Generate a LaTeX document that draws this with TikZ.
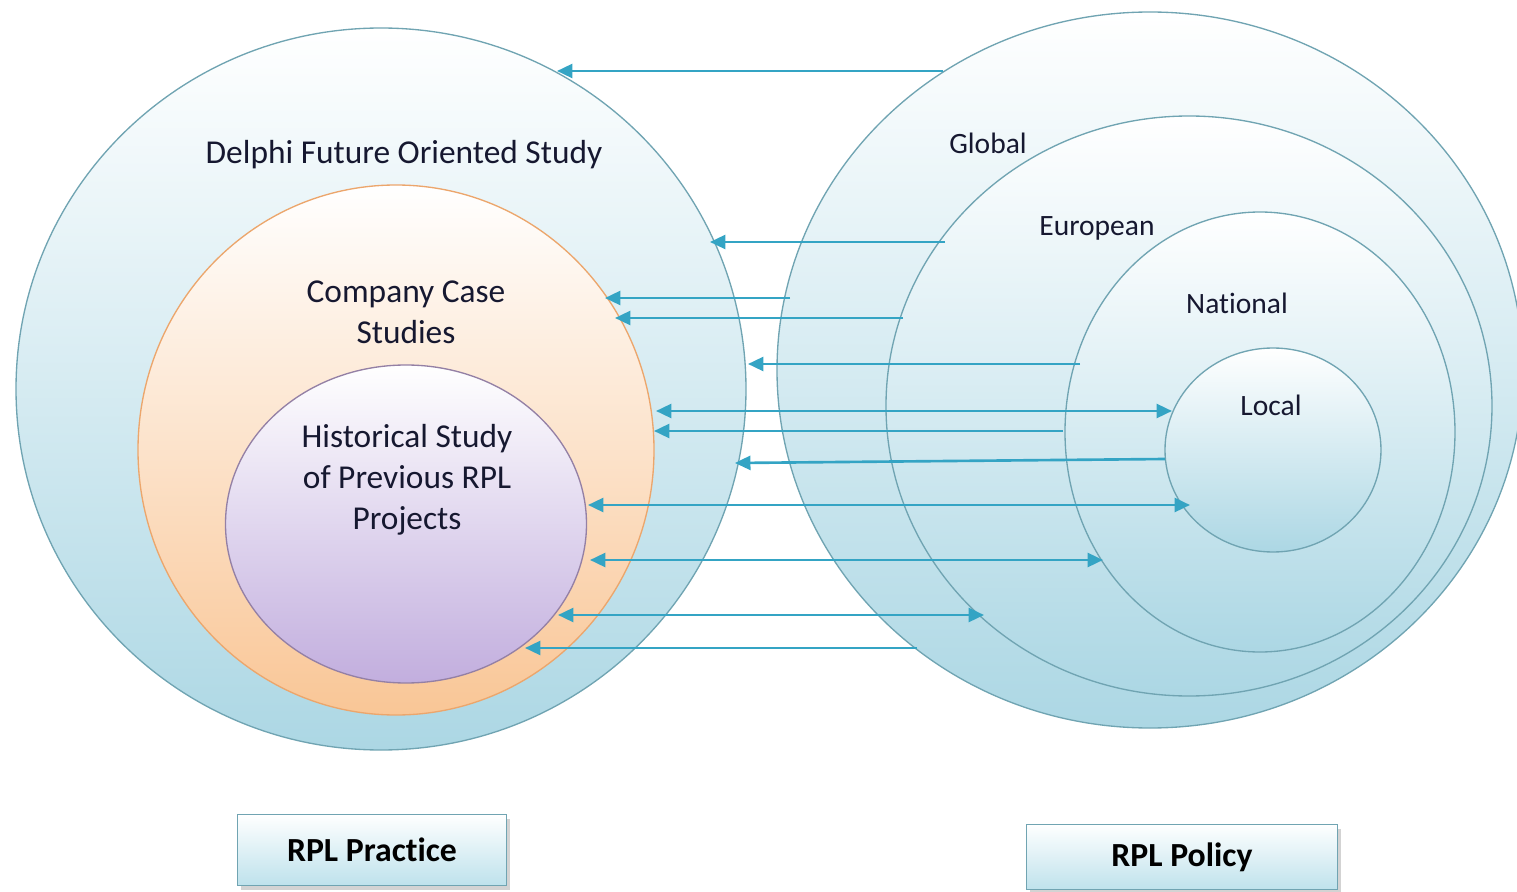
\documentclass[tikz,border=0pt]{standalone}
\usepackage{fontspec}
\setmainfont{Carlito}[Ligatures=NoCommon]
\usetikzlibrary{positioning, arrows.meta, shapes, shadows}
\definecolor{ringblue}{RGB}{172,215,228}
\definecolor{ringline}{RGB}{112,164,178}
\definecolor{caseorange}{RGB}{249,198,150}
\definecolor{caseline}{RGB}{236,166,108}
\definecolor{histlilac}{RGB}{194,174,222}
\definecolor{histline}{RGB}{148,128,165}
\definecolor{arrowteal}{RGB}{52,164,196}
\definecolor{tagblue}{RGB}{190,226,236}
\definecolor{inkblue}{RGB}{22,24,48}

\begin{document}
\begin{tikzpicture}[
		>={Triangle[length=4.4pt, width=4pt]},
		ring/.style={ellipse, draw=ringline, line width=0.38pt, inner sep=0pt, top color=white, bottom color=ringblue},
		lbl/.style={font=\fontsize{9.5}{11.7}\selectfont, align=center, text=inkblue},
		lvl/.style={font=\fontsize{8.4}{10}\selectfont, text=inkblue},
		link/.style={draw=arrowteal, line width=0.75pt},
		tag/.style={draw=ringline, rectangle, line width=0.5pt, top color=white, bottom color=tagblue, font=\fontsize{9.6}{11}\selectfont\bfseries, drop shadow={shadow xshift=1pt, shadow yshift=-1.2pt, opacity=0.35}},
	]
	\useasboundingbox (0,0) rectangle (15.17,-8.92);

	\node[ring, minimum width=7.30cm, minimum height=7.22cm] (delphi) at (3.81,-3.89) {};
	\node[ring, draw=caseline, bottom color=caseorange, minimum width=5.16cm, minimum height=5.30cm] (cases) at (3.96,-4.50) {};
	\node[ring, draw=histline, bottom color=histlilac, minimum width=3.61cm, minimum height=3.18cm] (history) at (4.06,-5.24) {};

	\node[ring, minimum width=7.46cm, minimum height=7.16cm] (global) at (11.50,-3.70) {};
	\node[ring, minimum width=6.06cm, minimum height=5.80cm] (european) at (11.89,-4.06) {};
	\node[ring, minimum width=3.90cm, minimum height=4.40cm] (national) at (12.60,-4.32) {};
	\node[ring, minimum width=2.16cm, minimum height=2.04cm] (local) at (12.73,-4.50) {};

	\node[lbl] (delphilbl) at (4.04,-1.55) {Delphi Future Oriented Study};
	\node[lbl] (caseslbl) at (4.06,-3.12) {Company Case\\Studies};
	\node[lbl] (historylbl) at (4.07,-4.80) {Historical Study\\of Previous RPL\\Projects};

	\node[lvl] (globallbl) at (9.88,-1.43) {Global};
	\node[lvl] (europeanlbl) at (10.97,-2.28) {European};
	\node[lvl] (nationallbl) at (12.37,-3.03) {National};
	\node[lvl] (locallbl) at (12.71,-4.05) {Local};

	\node[tag, minimum width=2.69cm, minimum height=0.71cm] (practice) at (3.72,-8.50) {RPL Practice};
	\node[tag, minimum width=3.11cm, minimum height=0.65cm] (policy) at (11.82,-8.57) {RPL Policy};

	\coordinate (pr1) at (5.57,-0.71);  \coordinate (po1) at (9.43,-0.71);
	\coordinate (pr2) at (7.10,-2.42);  \coordinate (po2) at (9.45,-2.42);
	\coordinate (pr3) at (6.05,-2.98);  \coordinate (po3) at (7.90,-2.98);
	\coordinate (pr4) at (6.15,-3.18);  \coordinate (po4) at (9.03,-3.18);
	\coordinate (pr5) at (7.48,-3.64);  \coordinate (po5) at (10.80,-3.64);
	\coordinate (pr6) at (6.56,-4.11);  \coordinate (po6) at (11.72,-4.11);
	\coordinate (pr7) at (6.54,-4.31);  \coordinate (po7) at (10.63,-4.31);
	\coordinate (pr8) at (7.35,-4.63);  \coordinate (po8) at (11.65,-4.59);
	\coordinate (pr9) at (5.88,-5.05);  \coordinate (po9) at (11.90,-5.05);
	\coordinate (pr10) at (5.90,-5.60); \coordinate (po10) at (11.03,-5.60);
	\coordinate (pr11) at (5.58,-6.15); \coordinate (po11) at (9.84,-6.15);
	\coordinate (pr12) at (5.25,-6.48); \coordinate (po12) at (9.17,-6.48);

	\draw[link, ->] (po1) -- (pr1);
	\draw[link, ->] (po2) -- (pr2);
	\draw[link, ->] (po3) -- (pr3);
	\draw[link, ->] (po4) -- (pr4);
	\draw[link, ->] (po5) -- (pr5);
	\draw[link, <->] (pr6) -- (po6);
	\draw[link, ->] (po7) -- (pr7);
	\draw[link, ->] (po8) -- (pr8);
	\draw[link, <->] (pr9) -- (po9);
	\draw[link, <->] (pr10) -- (po10);
	\draw[link, <->] (pr11) -- (po11);
	\draw[link, ->] (po12) -- (pr12);
\end{tikzpicture}
\end{document}
